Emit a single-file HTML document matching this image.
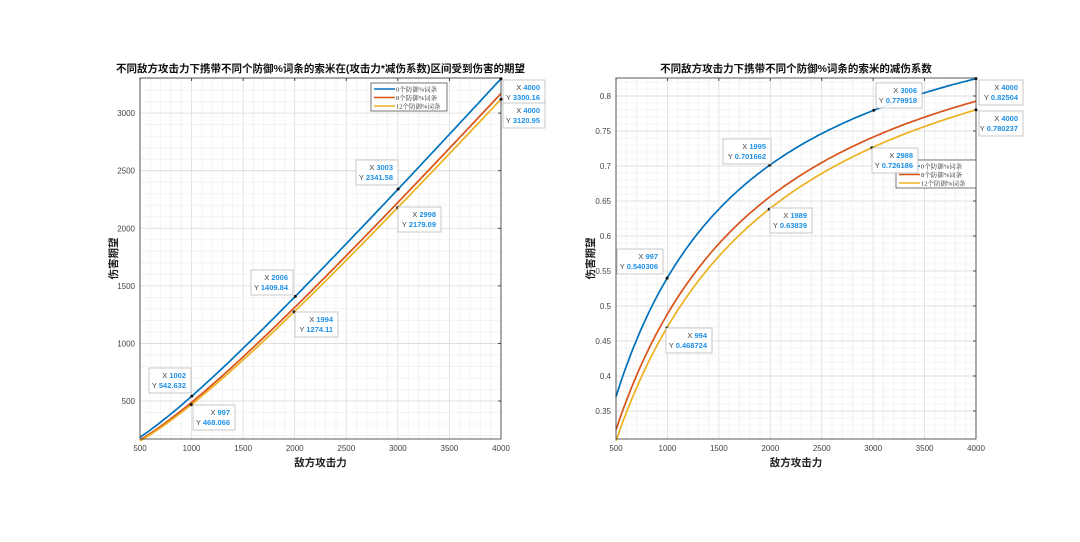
<!DOCTYPE html>
<html><head><meta charset="utf-8"><style>
body{margin:0;background:#fff;width:1080px;height:537px;overflow:hidden}
svg{font-family:"Liberation Sans","Noto Sans CJK SC",sans-serif}
</style></head><body>
<svg id="s" width="1080" height="537" viewBox="0 0 1080 537" xmlns="http://www.w3.org/2000/svg"></svg>
<script>
const S=document.getElementById('s');let h='';
function plot(o){
 const {x0,x1,y0,y1,ymin,ymax,yt,fmt,fn,minorY}=o;
 const X=v=>x0+(v-500)/3500*(x1-x0);
 const Y=v=>y1-(v-ymin)/(ymax-ymin)*(y1-y0);
 h+=`<rect x="${x0}" y="${y0}" width="${x1-x0}" height="${y1-y0}" fill="#fff"/>`;
 for(let v=500;v<=4000;v+=100){h+=`<line x1="${X(v)}" x2="${X(v)}" y1="${y0}" y2="${y1}" stroke="${v%500?'#f0f0f0':'#dcdcdc'}" stroke-width="0.8"/>`;}
 let k=Math.ceil(ymin/minorY);for(;k*minorY<=ymax;k++){const v=k*minorY;h+=`<line x1="${x0}" x2="${x1}" y1="${Y(v)}" y2="${Y(v)}" stroke="#f0f0f0" stroke-width="0.8"/>`;}
 yt.forEach(v=>{h+=`<line x1="${x0}" x2="${x1}" y1="${Y(v)}" y2="${Y(v)}" stroke="#dcdcdc" stroke-width="0.8"/><text x="${x0-5}" y="${Y(v)+3}" font-size="8" fill="#444" text-anchor="end">${fmt(v)}</text><line x1="${x1-3}" x2="${x1}" y1="${Y(v)}" y2="${Y(v)}" stroke="#444"/>`;});
 for(let v=500;v<=4000;v+=500){h+=`<text x="${X(v)}" y="${y1+12}" font-size="8" fill="#444" text-anchor="middle">${v}</text><line x1="${X(v)}" x2="${X(v)}" y1="${y0}" y2="${y0+3}" stroke="#444"/>`;}
 const cols=['#0072bd','#d95319','#edb120'],C=[850,1047,1127];
 C.forEach((c,i)=>{let p='';for(let v=500;v<=4000;v+=25){p+=`${X(v).toFixed(1)},${Y(fn(v,c)).toFixed(1)} `;}h+=`<polyline points="${p}" fill="none" stroke="${cols[i]}" stroke-width="1.7"/>`;});
 h+=`<rect x="${x0}" y="${y0}" width="${x1-x0}" height="${y1-y0}" fill="none" stroke="#333" stroke-width="0.8"/>`;
 const L=o.leg;h+=`<rect x="${L[0]}" y="${L[1]}" width="${L[2]}" height="28" fill="#fff" stroke="#555" stroke-width="0.8"/>`;
 ['0个防御%词条','8个防御%词条','12个防御%词条'].forEach((s,i)=>{const yy=L[1]+6+i*8.5;h+=`<line x1="${L[0]+3}" x2="${L[0]+24}" y1="${yy}" y2="${yy}" stroke="${cols[i]}" stroke-width="1.6"/><text x="${L[0]+25}" y="${yy+2.5}" font-size="6.5" fill="#333" font-family="Liberation Serif,Noto Serif CJK SC,serif">${s}</text>`;});
 o.tips.forEach(t=>{const [xv,c,bx,by,ys]=t;const yv=fn(xv,c);h+=`<circle cx="${X(xv)}" cy="${Y(yv)}" r="1.5" fill="#111"/><rect x="${bx}" y="${by}" width="${t[5]}" height="25" fill="#fff" fill-opacity="0.92" stroke="#bbb" stroke-width="0.8"/><text x="${bx+t[5]-5}" y="${by+10}" font-size="7.5" text-anchor="end" fill="#444">X <tspan fill="#1e90e6" font-weight="bold">${xv}</tspan></text><text x="${bx+t[5]-5}" y="${by+20}" font-size="7.5" text-anchor="end" fill="#444">Y <tspan fill="#1e90e6" font-weight="bold">${ys}</tspan></text>`;});
 h+=`<text x="${(x0+x1)/2}" y="${y0-6}" font-size="10.5" font-weight="bold" text-anchor="middle" fill="#111">${o.title}</text>`;
 h+=`<text x="${(x0+x1)/2}" y="${y1+27}" font-size="10.5" font-weight="bold" text-anchor="middle" fill="#222">敌方攻击力</text>`;
 h+=`<text transform="translate(${o.yl},${(y0+y1)/2}) rotate(-90)" font-size="10.5" font-weight="bold" text-anchor="middle" fill="#222">伤害期望</text>`;
}
const dmg=(x,c)=>x*x/(x+c),red=(x,c)=>x/(x+c);
plot({x0:140,x1:501,y0:78,y1:439,ymin:170,ymax:3305,yt:[500,1000,1500,2000,2500,3000],minorY:100,fmt:v=>v,fn:dmg,yl:117,
 title:'不同敌方攻击力下携带不同个防御%词条的索米在(攻击力*减伤系数)区间受到伤害的期望',
 leg:[371,83,76],
 tips:[[1002,850,149,368,'542.632',42],[997,1127,193,405,'468.066',42],[2006,850,251,270,'1409.84',42],[1994,1127,295,312,'1274.11',43],[3003,850,356,160,'2341.58',42],[2998,1127,398,207,'2179.09',43],[4000,850,503,80,'3300.16',42],[4000,1127,503,103,'3120.95',42]]});
plot({x0:616,x1:976,y0:78,y1:439,ymin:0.31,ymax:0.8257,yt:[0.35,0.4,0.45,0.5,0.55,0.6,0.65,0.7,0.75,0.8],minorY:0.01,fmt:v=>String(+v.toFixed(2)),fn:red,yl:594,
 title:'不同敌方攻击力下携带不同个防御%词条的索米的减伤系数',
 leg:[896,160,80],
 tips:[[997,850,617,249,'0.540306',46],[994,1127,666,328,'0.468724',46],[1995,850,723,139,'0.701662',48],[1989,1127,770,208,'0.63839',42],[3006,850,876,83,'0.779918',46],[2988,1127,872,148,'0.726186',46],[4000,850,979,80,'0.82504',44],[4000,1127,979,111,'0.780237',44]]});
S.innerHTML=h;
</script>
</body></html>
